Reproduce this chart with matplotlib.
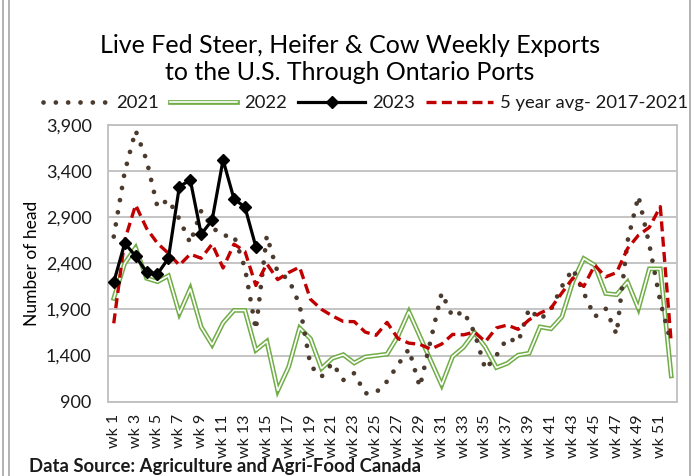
import matplotlib
matplotlib.use("Agg")
import matplotlib.pyplot as plt
from matplotlib.lines import Line2D
from matplotlib.ticker import FuncFormatter
import numpy as np

plt.rcParams['font.family'] = ['Lato', 'DejaVu Sans']

weeks = list(range(1, 53))
week_labels = ["wk " + str(w) for w in weeks]

y2021 = [2690, 3390, 3840, 3520, 3010, 3090, 2880, 2620, 2970, 2790,
         2700, 2700, 2350, 1680, 2700, 2300, 2230, 1950, 1290, 1170,
         1320, 1135, 1210, 990, 1000, 1120, 1300, 1470, 1060, 1570,
         2080, 1820, 1880, 1650, 1250, 1400, 1590, 1545, 1910, 1790,
         1900, 2150, 2340, 2080, 1820, 1910, 1630, 2640, 3130, 2600,
         1985, 1530]

y2022 = [2020, 2400, 2570, 2238, 2201, 2265, 1855, 2125, 1710, 1517,
         1755, 1890, 1890, 1458, 1555, 1020, 1277, 1700, 1583, 1260,
         1370, 1410, 1320, 1385, 1400, 1415, 1610, 1876, 1610, 1345,
         1081, 1390, 1490, 1650, 1490, 1270, 1315, 1405, 1425, 1711,
         1690, 1820, 2200, 2452, 2380, 2073, 2060, 2198, 1910, 2340,
         2340, 1180]

y2023 = [2195, 2617, 2480, 2303, 2285, 2454, 3232, 3304, 2715, 2870,
         3521, 3098, 3010, 2580]

avg5 = [1750, 2650, 3033, 2780, 2617, 2509, 2380, 2500, 2455, 2610,
        2350, 2608, 2530, 2160, 2395, 2224, 2300, 2360, 2010, 1902,
        1830, 1770, 1768, 1655, 1620, 1760, 1585, 1535, 1522, 1470,
        1525, 1630, 1625, 1655, 1550, 1700, 1731, 1684, 1788, 1860,
        1915, 2080, 2240, 2150, 2380, 2253, 2300, 2560, 2705, 2790,
        3015, 1540]

brown = '#4b3a2e'
green = '#70ad47'
red = '#c00000'
grid_gray = '#bfbfbf'

fig = plt.figure(figsize=(7, 4.76), dpi=100)
ax = fig.add_axes([0.1547, 0.1561, 0.812, 0.5813])

x = np.array(weeks)

l21, = ax.plot(x, y2021, color=brown, lw=3.4, linestyle=(0, (0.01, 2.6)),
               dash_capstyle='round', zorder=3)
g_out, = ax.plot(x, y2022, color=green, lw=3.4, solid_joinstyle='miter', zorder=2)
g_in, = ax.plot(x, y2022, color='white', lw=1.2, solid_joinstyle='miter', zorder=2)
l23, = ax.plot(x[:len(y2023)], y2023, color='black', lw=2.3, marker='D',
               markersize=6.5, zorder=5)
lavg, = ax.plot(x, avg5, color=red, lw=2.4, linestyle=(0, (3, 1.6)), zorder=4)

ax.set_xlim(0.5, 52.5)
ax.set_ylim(900, 3900)
ax.set_yticks(np.arange(900, 3901, 500))
ax.yaxis.set_major_formatter(FuncFormatter(lambda v, p: f"{int(v):,}"))
ax.set_xticks(weeks[::2])
ax.set_xticklabels(week_labels[::2], rotation=90, fontsize=11.5, color='#1a1a1a')
ax.tick_params(axis='y', labelsize=13, colors='#1a1a1a', length=0, pad=12)
ax.tick_params(axis='x', length=0, pad=9)
ax.grid(axis='y', color=grid_gray, lw=1.3)
ax.set_axisbelow(True)
for s in ax.spines.values():
    s.set_color(grid_gray)
    s.set_linewidth(1.3)

ax.set_ylabel("Number of head", fontsize=12.5, color='black', labelpad=4)

fig.text(0.5, 0.876, "Live Fed Steer, Heifer & Cow Weekly Exports\nto the U.S. Through Ontario Ports",
         ha='center', va='center', fontsize=18, color='black', linespacing=1.2)

fig.legend([l21, (g_out, g_in), l23, lavg], ["2021", "2022", "2023", "5 year avg- 2017-2021"],
           loc='center', bbox_to_anchor=(0.522, 0.783), ncol=4, frameon=False,
           fontsize=13.3, handlelength=3.6, columnspacing=0.6, handletextpad=0.4,
           labelcolor='#1a1a1a')

fig.text(0.041, 0.021, "Data Source: Agriculture and Agri-Food Canada", fontsize=13.3,
         fontweight='bold', color='#1a1a1a', ha='left', va='center')

# outer chart border
for xx in (0.004, 0.013):
    fig.add_artist(Line2D([xx, xx], [0, 1], color='#a6a6a6', lw=1.2))
fig.add_artist(Line2D([0.986, 0.986], [0, 1], color='#a6a6a6', lw=1.2))

fig.savefig("out.png", dpi=100)
